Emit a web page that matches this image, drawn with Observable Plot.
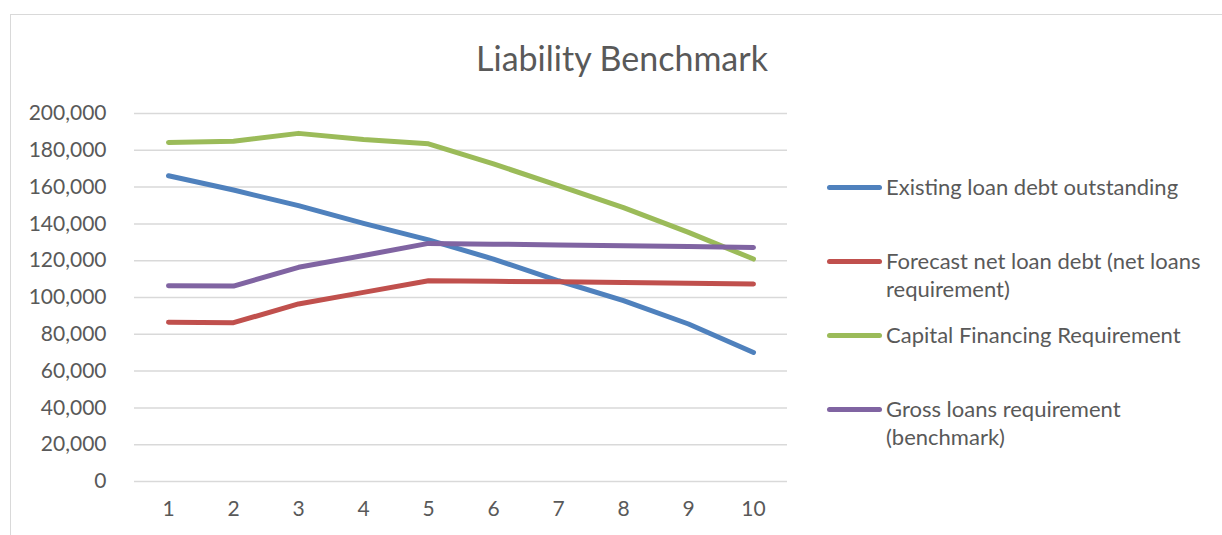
<!DOCTYPE html>
<html>
<head>
<meta charset="utf-8">
<script src="https://cdn.jsdelivr.net/npm/d3@7"></script>
<script src="https://cdn.jsdelivr.net/npm/@observablehq/plot@0.6"></script>
<style>
  html, body { margin: 0; padding: 0; background: #fff; }
  #wrap { position: relative; width: 1222px; height: 535px; overflow: hidden; font-family: Lato, sans-serif; color: #595959; }
  #frame { position: absolute; left: 10px; top: 14px; width: 1300px; height: 600px; border-top: 1.5px solid #D9D9D9; border-left: 1.5px solid #D9D9D9; box-sizing: border-box; }
  #title { position: absolute; left: 0; width: 1244px; top: 38px; text-align: center; font-size: 34px; line-height: 1.2; white-space: nowrap; }
  #chart { position: absolute; left: 0; top: 0; }
  .leg { position: absolute; left: 827px; display: flex; align-items: flex-start; }
  .leg .sw { width: 55px; height: 5px; border-radius: 3px; margin-top: 12px; flex: none; }
  .leg .tx { margin-left: 4px; font-size: 22px; line-height: 28px; width: 330px; }
</style>
</head>
<body>
<div id="wrap">
  <div id="frame"></div>
  <div id="title">Liability Benchmark</div>
  <div id="chart"></div>
</div>
<script>
const years = [1, 2, 3, 4, 5, 6, 7, 8, 9, 10];
const seriesNames = [
  "Existing loan debt outstanding",
  "Forecast net loan debt (net loans requirement)",
  "Capital Financing Requirement",
  "Gross loans requirement (benchmark)"
];
const seriesColors = ["#4F81BD", "#C0504D", "#9BBB59", "#8064A2"];
const existingDebt = [166200, 158400, 149900, 140300, 131300, 120900, 109100, 98300, 85600, 70100];
const forecastNetDebt = [86500, 86300, 96500, 102800, 109100, 108800, 108500, 108100, 107700, 107300];
const capitalFinancing = [184300, 184900, 189200, 185900, 183500, 172600, 160800, 148800, 135400, 120900];
const grossLoans = [106400, 106200, 116400, 122800, 129400, 129000, 128500, 128100, 127700, 127200];
const yTicks = [0, 20000, 40000, 60000, 80000, 100000, 120000, 140000, 160000, 180000, 200000];

const allValues = [existingDebt, forecastNetDebt, capitalFinancing, grossLoans];
const rows = [];
allValues.forEach((vals, i) => {
  years.forEach((yr, j) => rows.push({ series: seriesNames[i], year: yr, value: vals[j] }));
});

const chart = Plot.plot({
  width: 1222,
  height: 535,
  marginLeft: 134,
  marginRight: 435,
  marginTop: 113,
  marginBottom: 54,
  style: { fontFamily: "Lato, sans-serif", fontSize: "21px", color: "#595959", background: "transparent", overflow: "visible" },
  x: { type: "point", domain: years, padding: 0.5, label: null },
  y: { domain: [0, 200000], label: null },
  color: { domain: seriesNames, range: seriesColors },
  marks: [
    Plot.gridY(yTicks, { stroke: "#D9D9D9", strokeOpacity: 1, strokeWidth: 1.5 }),
    Plot.axisY(yTicks, { tickSize: 0, tickPadding: 28, tickFormat: d3.format(","), label: null, fontSize: 21 }),
    Plot.axisX(years, { tickSize: 0, tickPadding: 20, label: null, fontSize: 21 }),
    Plot.line(rows, { x: "year", y: "value", z: "series", stroke: "series", strokeWidth: 5, strokeLinecap: "round", strokeLinejoin: "round" })
  ]
});
document.getElementById("chart").appendChild(chart);

const wrap = document.getElementById("wrap");
seriesNames.forEach((name, i) => {
  const item = document.createElement("div");
  item.className = "leg";
  item.style.top = (173 + i * 74) + "px";
  const sw = document.createElement("div");
  sw.className = "sw";
  sw.style.background = seriesColors[i];
  const tx = document.createElement("div");
  tx.className = "tx";
  tx.textContent = name;
  item.appendChild(sw);
  item.appendChild(tx);
  wrap.appendChild(item);
});
</script>
</body>
</html>
